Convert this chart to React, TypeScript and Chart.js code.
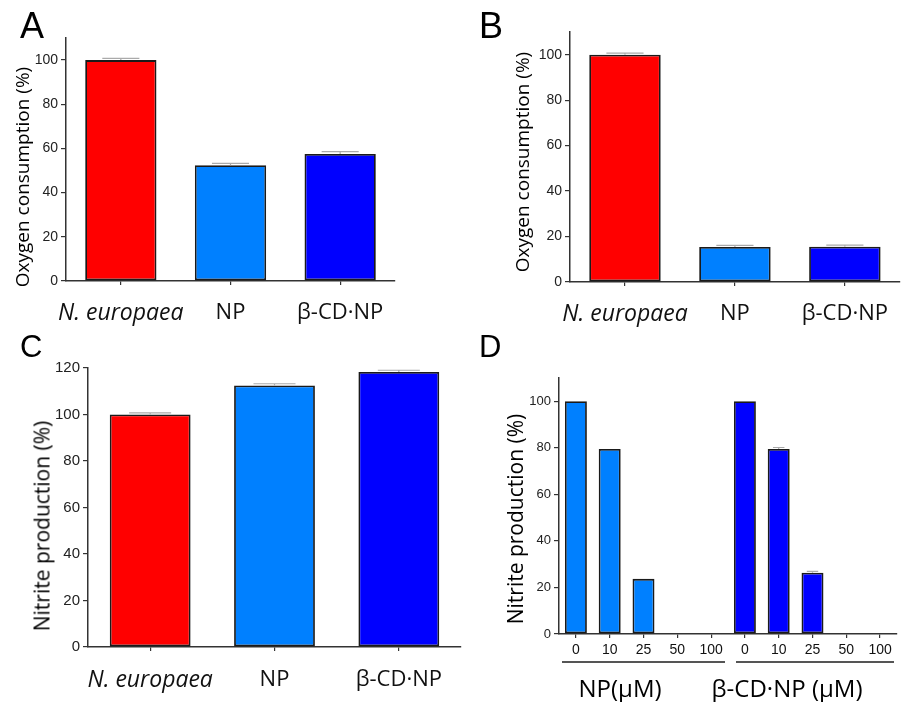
import React, { useEffect, useRef } from 'react';
import { Chart, registerables } from 'chart.js';

Chart.register(...registerables);

// ---- data ----
const groupCategories = ['N. europaea', 'NP', 'β-CD·NP'];
const oxygenA = [100, 52.4, 57.5];
const oxygenAErr = [0.3, 0.4, 0.6];
const oxygenB = [100, 15.4, 15.5];
const oxygenBErr = [0.3, 0.3, 0.3];
const nitriteC = [100, 112.5, 118.3];
const nitriteCErr = [0.3, 0.3, 0.3];
const concentrations = ['0', '10', '25', '50', '100'];
const nitriteNP = [100, 79.5, 23.7, 0, 0];
const nitriteNPErr = [0, 0, 0, 0, 0];
const nitriteCD = [100, 79.5, 26.3, 0, 0];
const nitriteCDErr = [0, 0.2, 0.2, 0, 0];
const yTicksOxygen = [0, 20, 40, 60, 80, 100];
const yTicksNitriteC = [0, 20, 40, 60, 80, 100, 120];

const RED = '#FF0000';
const LIGHT = '#0080FF';
const BLUE = '#0000FF';
const groupColors = [RED, LIGHT, BLUE];

type Area = { l: number; t: number; r: number; b: number };

type PanelProps = {
  left: number;
  top: number;
  width: number;
  height: number;
  area: Area;
  labels: string[];
  data: number[];
  errors: number[];
  colors: string[];
  yMax: number;
  yTicks: number[];
  tickSize: number;
  xFontSize: number;
  xPadding: number;
  italicFirst: boolean;
};

const errorBarPlugin = {
  id: 'errorCaps',
  afterDatasetsDraw(chart: any, _args: any, opts: any) {
    const errs: number[] = opts.errors || [];
    const meta = chart.getDatasetMeta(0);
    const y = chart.scales.y;
    const ctx = chart.ctx;
    ctx.save();
    ctx.strokeStyle = '#aaa';
    ctx.lineWidth = 1.2;
    meta.data.forEach((bar: any, i: number) => {
      const e = errs[i];
      const v = chart.data.datasets[0].data[i];
      if (!e || !v) return;
      const yTop = y.getPixelForValue(v + e);
      const yVal = y.getPixelForValue(v);
      const half = bar.width * 0.26;
      ctx.beginPath();
      ctx.moveTo(bar.x, yVal);
      ctx.lineTo(bar.x, yTop - 1);
      ctx.moveTo(bar.x - half, yTop - 1);
      ctx.lineTo(bar.x + half, yTop - 1);
      ctx.stroke();
    });
    ctx.restore();
  },
};

function Panel(p: PanelProps) {
  const ref = useRef<HTMLCanvasElement | null>(null);
  useEffect(() => {
    if (!ref.current) return;
    const axisColor = '#333';
    const chart = new Chart(ref.current, {
      type: 'bar',
      data: {
        labels: p.labels,
        datasets: [
          {
            data: p.data,
            backgroundColor: p.colors,
            borderColor: '#1a1a1a',
            borderWidth: 1.8,
            borderSkipped: false,
            barPercentage: 0.65,
            categoryPercentage: 1,
          },
        ],
      },
      options: {
        responsive: false,
        maintainAspectRatio: false,
        animation: false,
        layout: {
          padding: { left: 0, top: p.area.t, right: p.width - p.area.r, bottom: 0 },
        },
        plugins: {
          legend: { display: false },
          tooltip: { enabled: false },
          errorCaps: { errors: p.errors },
        },
        scales: {
          x: {
            type: 'category',
            offset: true,
            grid: {
              display: true,
              drawOnChartArea: false,
              offset: false,
              tickLength: 4,
              color: axisColor,
              lineWidth: 1.2,
            },
            border: { display: true, color: axisColor, width: 1.5 },
            ticks: {
              autoSkip: false,
              maxRotation: 0,
              color: '#111',
              padding: p.xPadding,
              font: (ctx: any) => ({
                family: p.italicFirst ? 'Open Sans' : 'Liberation Sans',
                size: p.italicFirst && ctx.index === 0 ? p.xFontSize + 1 : p.xFontSize,
                style: p.italicFirst && ctx.index === 0 ? 'italic' : 'normal',
              }),
            },
            afterFit: (s: any) => {
              s.height = p.height - p.area.b;
            },
          },
          y: {
            min: 0,
            max: p.yMax,
            grid: {
              display: true,
              drawOnChartArea: false,
              tickLength: 5,
              color: axisColor,
              lineWidth: 1.2,
            },
            border: { display: true, color: axisColor, width: 1.5 },
            ticks: {
              stepSize: 20,
              color: '#222',
              padding: 3,
              font: { family: 'Liberation Sans', size: p.tickSize },
            },
            afterBuildTicks: (s: any) => {
              s.ticks = p.yTicks.map((v) => ({ value: v }));
            },
            afterFit: (s: any) => {
              s.width = p.area.l;
            },
          },
        },
      },
      plugins: [errorBarPlugin],
    } as any);
    return () => chart.destroy();
  }, []);
  return (
    <canvas
      ref={ref}
      width={p.width}
      height={p.height}
      style={{ position: 'absolute', left: p.left, top: p.top, width: p.width, height: p.height }}
    />
  );
}

function Label(props: { text: string; x: number; y: number; size: number; rotate?: boolean }) {
  return (
    <div
      style={{
        position: 'absolute',
        left: props.x,
        top: props.y,
        transform: `translate(-50%, -50%)${props.rotate ? ' rotate(-90deg)' : ''}`,
        whiteSpace: 'nowrap',
        lineHeight: 1,
        fontFamily: "'Open Sans', sans-serif",
        fontSize: props.size,
        color: '#000',
      }}
    >
      {props.text}
    </div>
  );
}

function Letter(props: { text: string; x: number; y: number; size: number }) {
  return (
    <div
      style={{
        position: 'absolute',
        left: props.x,
        top: props.y,
        lineHeight: 1,
        fontFamily: "'Liberation Sans', Arial, sans-serif",
        fontSize: props.size,
        color: '#000',
      }}
    >
      {props.text}
    </div>
  );
}

export default function App() {
  const dLabels = [...concentrations, ...concentrations];
  const dData = [...nitriteNP, ...nitriteCD];
  const dErr = [...nitriteNPErr, ...nitriteCDErr];
  const dColors = [...nitriteNP.map(() => LIGHT), ...nitriteCD.map(() => BLUE)];
  return (
    <div
      style={{
        position: 'absolute',
        left: 0,
        top: 0,
        width: 903,
        height: 702,
        background: '#fff',
        overflow: 'hidden',
      }}
    >
      <Panel
        left={0}
        top={0}
        width={430}
        height={340}
        area={{ l: 66, t: 38, r: 395, b: 281 }}
        labels={groupCategories}
        data={oxygenA}
        errors={oxygenAErr}
        colors={groupColors}
        yMax={110}
        yTicks={yTicksOxygen}
        tickSize={14}
        xFontSize={22}
        xPadding={15}
        italicFirst={true}
      />
      <Panel
        left={450}
        top={0}
        width={453}
        height={340}
        area={{ l: 120, t: 32, r: 453, b: 282 }}
        labels={groupCategories}
        data={oxygenB}
        errors={oxygenBErr}
        colors={groupColors}
        yMax={110}
        yTicks={yTicksOxygen}
        tickSize={14}
        xFontSize={22}
        xPadding={15}
        italicFirst={true}
      />
      <Panel
        left={0}
        top={330}
        width={470}
        height={372}
        area={{ l: 88, t: 38, r: 461, b: 317 }}
        labels={groupCategories}
        data={nitriteC}
        errors={nitriteCErr}
        colors={groupColors}
        yMax={120}
        yTicks={yTicksNitriteC}
        tickSize={15}
        xFontSize={22}
        xPadding={16}
        italicFirst={true}
      />
      <Panel
        left={460}
        top={330}
        width={443}
        height={372}
        area={{ l: 99, t: 48, r: 437, b: 304 }}
        labels={dLabels}
        data={dData}
        errors={dErr}
        colors={dColors}
        yMax={110}
        yTicks={yTicksOxygen}
        tickSize={13}
        xFontSize={14}
        xPadding={4}
        italicFirst={false}
      />

      <Letter text="A" x={20} y={8} size={36} />
      <Letter text="B" x={479} y={8} size={36} />
      <Letter text="C" x={20} y={331} size={31} />
      <Letter text="D" x={479} y={331} size={31} />

      <Label text="Oxygen consumption (%)" x={22} y={177} size={19} rotate />
      <Label text="Oxygen consumption (%)" x={522} y={162} size={19} rotate />
      <Label text="Nitrite production (%)" x={42} y={526} size={21} rotate />
      <Label text="Nitrite production (%)" x={515} y={519} size={21} rotate />

      <div style={{ position: 'absolute', left: 562, top: 661, width: 163, height: 2, background: '#555' }} />
      <div style={{ position: 'absolute', left: 736, top: 661, width: 158, height: 2, background: '#555' }} />
      <Label text="NP(μM)" x={620} y={688} size={24} />
      <Label text="β-CD·NP (μM)" x={787} y={688} size={24} />
    </div>
  );
}
